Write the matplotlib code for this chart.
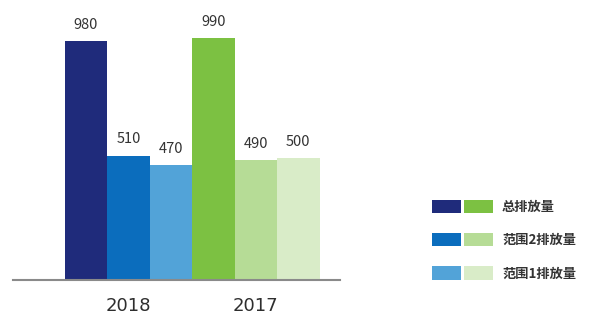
import numpy as np
import matplotlib
matplotlib.use("Agg")
import matplotlib.pyplot as plt
from matplotlib.legend_handler import HandlerTuple

plt.rcParams['font.family'] = ['Noto Sans CJK SC', 'DejaVu Sans']

# data
years = ["2018", "2017"]
series = ["总排放量", "范围2排放量", "范围1排放量"]
values_2018 = [980, 510, 470]
values_2017 = [990, 490, 500]
colors_2018 = ["#1f2b7b", "#0b6dbd", "#52a3d8"]
colors_2017 = ["#7cc142", "#b6dc96", "#d9ecc8"]

fig = plt.figure(figsize=(5.98, 3.18), dpi=100)
ax = fig.add_axes([13 / 598, 38 / 318, 327 / 598, 244 / 318])

bars_2018 = []
bars_2017 = []
for i in range(3):
    b = ax.bar(i, values_2018[i], width=1.0, color=colors_2018[i])
    bars_2018.append(b)
    ax.text(i, values_2018[i] + 38, str(values_2018[i]), ha="center",
            va="bottom", fontsize=10.5, color="#333333")
    b = ax.bar(3 + i, values_2017[i], width=1.0, color=colors_2017[i])
    bars_2017.append(b)
    ax.text(3 + i, values_2017[i] + 38, str(values_2017[i]), ha="center",
            va="bottom", fontsize=10.5, color="#333333")

ax.set_xlim(-1.72, 5.98)
ax.set_ylim(0, 1000)
for s in ["top", "right", "left"]:
    ax.spines[s].set_visible(False)
ax.spines["bottom"].set_color("#8a8a8a")
ax.spines["bottom"].set_linewidth(1.5)
ax.set_yticks([])
ax.set_xticks([1, 4])
ax.set_xticklabels(years, fontsize=13, color="#2e2e2e", family="DejaVu Sans")
ax.tick_params(axis="x", length=0, pad=12)

handles = [(bars_2018[i], bars_2017[i]) for i in range(3)]
fig.legend(handles, series, handler_map={tuple: HandlerTuple(ndivide=None, pad=0.2)},
           loc="center left", bbox_to_anchor=(432 / 598, 78 / 318),
           frameon=False, prop={"size": 9.5, "weight": "bold"},
           handlelength=4.6, handleheight=1.2,
           handletextpad=0.7, labelspacing=1.45, borderpad=0, borderaxespad=0,
           labelcolor="#333333")

fig.savefig("out.png", dpi=100)
